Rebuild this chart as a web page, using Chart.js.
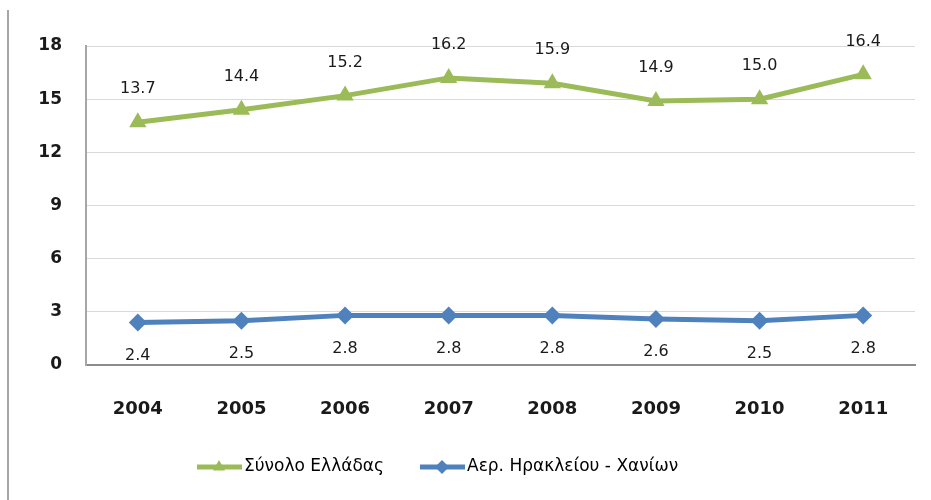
<!DOCTYPE html>
<html>
<head>
<meta charset="utf-8">
<script src="https://cdn.jsdelivr.net/npm/chart.js@4.4.1/dist/chart.umd.min.js"></script>
<style>
  html, body { margin: 0; padding: 0; background: #fff; }
  #wrap { position: relative; width: 931px; height: 500px; }
  #wrap::before { content: ''; position: absolute; left: 7px; top: 10px; bottom: 0; border-left: 2px solid #a6a6a6; }
</style>
</head>
<body>
<div id="wrap"><canvas id="chart" width="931" height="500"></canvas></div>
<script>
const years = ['2004', '2005', '2006', '2007', '2008', '2009', '2010', '2011'];
const greece = [13.7, 14.4, 15.2, 16.2, 15.9, 14.9, 15.0, 16.4];
const heraklionChania = [2.4, 2.5, 2.8, 2.8, 2.8, 2.6, 2.5, 2.8];
const yTicks = [0, 3, 6, 9, 12, 15, 18];
const seriesNames = ['Σύνολο Ελλάδας', 'Αερ. Ηρακλείου - Χανίων'];

const GREEN = '#9bbb59';
const BLUE = '#4f81bd';
const FONT = "'DejaVu Sans', sans-serif";

// value labels: green above the points, blue below
const valueLabels = {
  id: 'valueLabels',
  afterDatasetsDraw(chart) {
    const ctx = chart.ctx;
    ctx.save();
    ctx.font = '16px ' + FONT;
    ctx.fillStyle = '#1a1a1a';
    ctx.textAlign = 'center';
    ctx.textBaseline = 'middle';
    chart.data.datasets.forEach((ds, i) => {
      const meta = chart.getDatasetMeta(i);
      const dy = i === 0 ? -33 : 33;
      meta.data.forEach((pt, j) => {
        ctx.fillText(ds.data[j].toFixed(1), pt.x, pt.y + dy);
      });
    });
    ctx.restore();
  }
};

// legend drawn as line + marker like the original
const lineLegend = {
  id: 'lineLegend',
  afterDraw(chart) {
    const ctx = chart.ctx;
    const items = [
      { x: 197, ds: chart.data.datasets[0] },
      { x: 420, ds: chart.data.datasets[1] }
    ];
    const y = 467;
    ctx.save();
    ctx.font = '17px ' + FONT;
    ctx.textBaseline = 'middle';
    items.forEach(it => {
      ctx.strokeStyle = it.ds.borderColor;
      ctx.lineWidth = 5;
      ctx.beginPath();
      ctx.moveTo(it.x, y);
      ctx.lineTo(it.x + 45, y);
      ctx.stroke();
      ctx.fillStyle = it.ds.borderColor;
      Chart.helpers.drawPoint(ctx, {
        pointStyle: it.ds.pointStyle, radius: 7, borderWidth: 0
      }, it.x + 22, y);
      ctx.fillStyle = '#000';
      ctx.fillText(it.ds.label, it.x + 47, y);
    });
    ctx.restore();
  }
};

new Chart(document.getElementById('chart'), {
  type: 'line',
  data: {
    labels: years,
    datasets: [
      {
        label: seriesNames[0],
        data: greece,
        borderColor: GREEN,
        backgroundColor: GREEN,
        borderWidth: 5,
        pointStyle: 'triangle',
        pointRadius: 10,
        pointBorderWidth: 0,
        tension: 0
      },
      {
        label: seriesNames[1],
        data: heraklionChania,
        borderColor: BLUE,
        backgroundColor: BLUE,
        borderWidth: 5,
        pointStyle: 'rectRot',
        pointRadius: 9,
        pointBorderWidth: 0,
        tension: 0
      }
    ]
  },
  options: {
    responsive: false,
    animation: false,
    layout: { padding: { top: 46, right: 16, left: 0, bottom: 55 } },
    plugins: {
      legend: { display: false },
      tooltip: { enabled: false }
    },
    scales: {
      x: {
        offset: true,
        grid: { display: false, drawTicks: false },
        border: { color: '#8c8c8c', width: 2 },
        ticks: { color: '#1a1a1a', font: { family: FONT, size: 18, weight: 'bold' }, padding: 34 },
        afterFit: s => { s.height = 80; }
      },
      y: {
        min: 0,
        max: 18,
        afterBuildTicks: s => { s.ticks = yTicks.map(v => ({ value: v })); },
        grid: { color: '#d9d9d9', lineWidth: 1, drawTicks: false },
        border: { color: '#a6a6a6', width: 2 },
        ticks: { color: '#1a1a1a', font: { family: FONT, size: 17, weight: 'bold' }, padding: 24 },
        afterFit: s => { s.width = 86; }
      }
    }
  },
  plugins: [valueLabels, lineLegend]
});
</script>
</body>
</html>
